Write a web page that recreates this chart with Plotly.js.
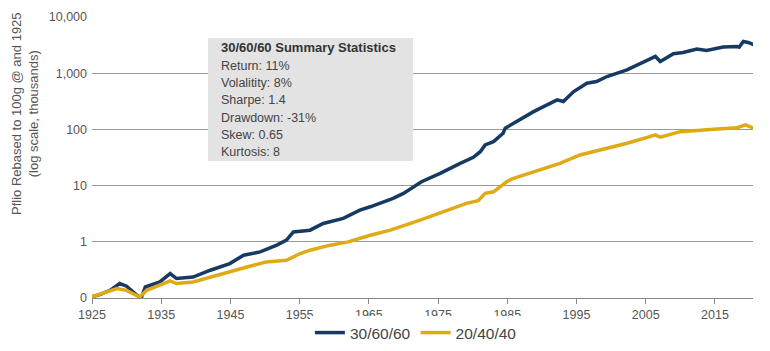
<!DOCTYPE html>
<html>
<head>
<meta charset="utf-8">
<script src="https://cdn.plot.ly/plotly-3.0.1.min.js"></script>
<style>html,body{margin:0;padding:0;background:#fff;}#chart{width:770px;height:351px;}</style>
</head>
<body>
<div id="chart"></div>
<script>
// 30/60/60 portfolio (thousands, log scale)
const yearsA = [1925.0,1925.2,1926.2,1927.6,1929.0,1930.0,1931.5,1931.9,1932.2,1932.7,1934.8,1936.3,1937.2,1939.6,1942.1,1944.9,1946.9,1949.3,1951.7,1953.1,1954.1,1956.5,1958.4,1961.3,1963.7,1965.2,1968.5,1970.0,1972.6,1975.3,1978.2,1980.1,1981.1,1981.8,1983.0,1984.4,1984.7,1986.4,1988.8,1992.2,1993.1,1994.6,1996.5,1997.9,1999.4,2002.3,2005.6,2006.4,2007.1,2009.0,2010.4,2012.4,2013.8,2016.2,2018.2,2018.5,2019.1,2019.8,2020.6];
const valsA = [0.100,0.107,0.116,0.137,0.181,0.162,0.112,0.104,0.107,0.157,0.193,0.272,0.222,0.236,0.312,0.410,0.577,0.661,0.871,1.07,1.50,1.61,2.12,2.61,3.66,4.20,5.92,7.27,11.7,16.5,24.9,31.9,40.1,52.8,60.5,85.4,105,137,207,335,313,471,665,711,873,1148,1733,1983,1615,2217,2338,2687,2536,2917,2992,2900,3673,3524,3206];
// 20/40/40 portfolio
const yearsB = [1925.0,1925.2,1928.6,1930.0,1931.9,1932.9,1936.3,1937.2,1939.6,1942.1,1944.9,1947.4,1950.2,1953.1,1955.1,1956.5,1959.4,1962.0,1965.2,1968.1,1972.4,1975.8,1979.1,1980.8,1981.8,1983.0,1984.9,1985.9,1988.8,1992.6,1995.5,1999.4,2002.3,2005.6,2006.4,2007.1,2010.0,2014.8,2018.2,2019.4,2020.1,2020.6];
const valsB = [0.100,0.107,0.147,0.137,0.104,0.137,0.201,0.181,0.193,0.237,0.291,0.357,0.439,0.470,0.619,0.709,0.871,0.997,1.31,1.61,2.43,3.42,4.82,5.37,7.27,7.76,11.7,13.5,17.7,24.9,35.1,46.1,56.6,74.3,79.7,72.5,91.2,101,107,120,112,105];

const seriesNames = ['30/60/60', '20/40/40'];
const xTickVals = [1925,1935,1945,1955,1965,1975,1985,1995,2005,2015];
const yTickVals = [0.1,1,10,100,1000,10000];
const yTickText = ['0','1','10','100','1,000','10,000'];
const statsTitle = '30/60/60 Summary Statistics';
const statsLines = ['Return: 11%','Volalitity: 8%','Sharpe: 1.4','Drawdown: -31%','Skew: 0.65','Kurtosis: 8'];
const yTitle = 'Pflio Rebased to 100g @ and 1925<br>(log scale, thousands)';

const FONT = 'Liberation Sans, Arial, Helvetica, sans-serif';
const traces = [
  {x: yearsA, y: valsA, name: seriesNames[0], type: 'scatter', mode: 'lines',
   line: {color: '#173a63', width: 3.5}},
  {x: yearsB, y: valsB, name: seriesNames[1], type: 'scatter', mode: 'lines',
   line: {color: '#e0aa14', width: 3.5}}
];

const plotTop = 17, plotBottom = 298; // px
const ph = plotBottom - plotTop;
function py(px) { return (plotBottom - px) / ph; }
function pxX(px) { return (px - 92) / 661; }

const annotations = [
  {xref: 'paper', yref: 'paper', x: pxX(25), y: py(114), text: yTitle, textangle: -90,
   showarrow: false, xanchor: 'center', yanchor: 'middle',
   font: {family: FONT, size: 13, color: '#555'}},
  {xref: 'paper', yref: 'paper', x: pxX(219), y: py(48), text: '<b>' + statsTitle + '</b>',
   showarrow: false, xanchor: 'left', yanchor: 'middle', font: {family: FONT, size: 13, color: '#333'}}
];
statsLines.forEach((t, i) => annotations.push({
  xref: 'paper', yref: 'paper', x: pxX(219), y: py(66 + i * 17.2), text: t,
  showarrow: false, xanchor: 'left', yanchor: 'middle', font: {family: FONT, size: 12.5, color: '#444'}
}));

const layout = {
  width: 770, height: 351,
  margin: {l: 92, r: 17, t: plotTop, b: 351 - plotBottom, pad: 0},
  paper_bgcolor: '#fff', plot_bgcolor: '#fff',
  font: {family: FONT, size: 12, color: '#555'},
  showlegend: true,
  legend: {orientation: 'h', x: 0.49, xref: 'paper', xanchor: 'center',
           yref: 'container', y: 18 / 351, yanchor: 'middle',
           font: {family: FONT, size: 15.5, color: '#444'}, itemwidth: 30},
  xaxis: {range: [1925, 2020.5], tickvals: xTickVals, ticks: 'outside', ticklen: 5,
          tickcolor: '#888', showline: true, linecolor: '#888', linewidth: 1,
          showgrid: false, zeroline: false, tickfont: {family: FONT, size: 12.5, color: '#555'}},
  yaxis: {type: 'log', range: [-1, 4], tickvals: yTickVals, ticktext: yTickText,
          showgrid: true, gridcolor: '#9a9a9a', gridwidth: 1, showline: false, zeroline: false,
          ticks: '', ticklabelstandoff: 4, tickfont: {family: FONT, size: 12.5, color: '#555'}},
  shapes: [{type: 'rect', xref: 'paper', yref: 'paper', x0: pxX(208), x1: pxX(413),
            y0: py(161), y1: py(38), fillcolor: '#e3e3e3', line: {width: 0}, layer: 'above'}],
  annotations: annotations
};

Plotly.newPlot('chart', traces, layout, {displayModeBar: false, staticPlot: true});
</script>
</body>
</html>
